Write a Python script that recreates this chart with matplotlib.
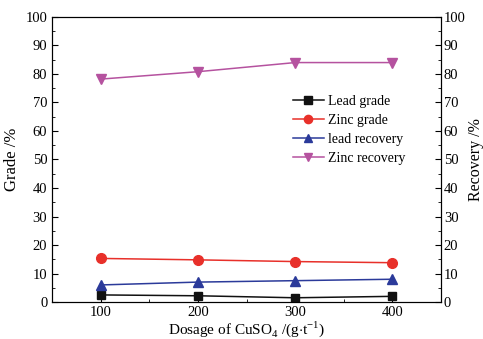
import matplotlib
matplotlib.use("Agg")
import matplotlib.pyplot as plt
from matplotlib.ticker import MultipleLocator

dosage = [100, 200, 300, 400]
lead_grade = [2.5, 2.2, 1.5, 2.0]
zinc_grade = [15.3, 14.8, 14.2, 13.8]
lead_recovery = [6.0, 7.0, 7.5, 8.0]
zinc_recovery = [78.2, 80.8, 84.0, 84.0]

plt.rcParams['font.family'] = ['Liberation Serif', 'DejaVu Serif']
plt.rcParams['mathtext.fontset'] = 'custom'
plt.rcParams['mathtext.rm'] = 'Liberation Serif'

fig = plt.figure(figsize=(4.83, 3.39), dpi=100)
ax = fig.add_axes([0.108, 0.109, 0.805, 0.841])
ax2 = ax.twinx()

l1, = ax.plot(dosage, lead_grade, color='#111111', marker='s', ms=6, lw=1.1, label='Lead grade')
l2, = ax.plot(dosage, zinc_grade, color='#e8302a', marker='o', ms=7, lw=1.1, label='Zinc grade')
l3, = ax2.plot(dosage, lead_recovery, color='#2b3a9a', marker='^', ms=7, lw=1.1, label='lead recovery')
l4, = ax2.plot(dosage, zinc_recovery, color='#b5529f', marker='v', ms=7, lw=1.1, label='Zinc recovery')

for a in (ax, ax2):
    a.set_ylim(0, 100)
    a.yaxis.set_major_locator(MultipleLocator(10))
    a.yaxis.set_minor_locator(MultipleLocator(5))
ax.set_xlim(50, 450)
ax.set_xticks(dosage)
ax.xaxis.set_minor_locator(MultipleLocator(50))

ax.tick_params(axis='both', which='both', direction='in', labelsize=10.5, top=False)
ax.tick_params(which='major', length=4)
ax.tick_params(which='minor', length=2.5)
ax.tick_params(axis='x', pad=3)
ax2.tick_params(axis='y', which='both', direction='in', labelsize=10.5, pad=2)
ax2.tick_params(which='major', length=4)
ax2.tick_params(which='minor', length=2.5)

ax.set_ylabel('Grade /%', fontsize=12, labelpad=4)
ax2.set_ylabel('Recovery /%', fontsize=11.5, labelpad=1.5)
ax.set_xlabel('Dosage of CuSO$_4$ /(g$\\cdot$t$^{-1}$)', fontsize=11, labelpad=0)

ax.legend(handles=[l1, l2, l3, l4], loc='upper left', bbox_to_anchor=(0.605, 0.745),
          frameon=False, fontsize=10, handlelength=2.2, labelspacing=0.42,
          handletextpad=0.3, borderaxespad=0, markerscale=0.85)

fig.savefig('out.png', dpi=100)
